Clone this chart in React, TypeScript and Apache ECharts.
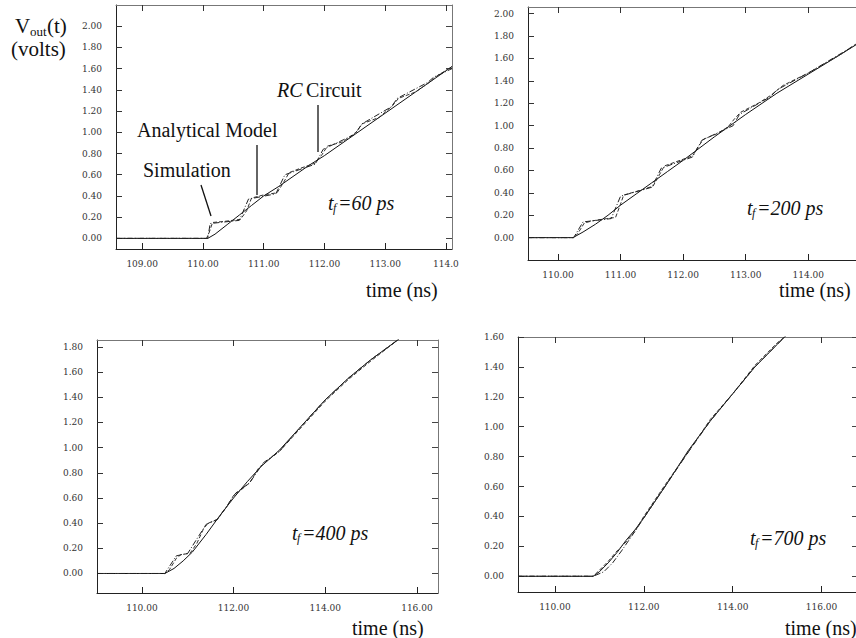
import React, { useEffect, useRef } from "react";
import * as echarts from "echarts";

// ---------- data ----------
// panel 1 : tf = 60 ps
const p1RC = [[108.57,0],[110.08,0],[110.2,0.04],[110.4,0.13],[110.6,0.22],[110.8,0.31],[111.0,0.4],[111.25,0.49],[111.5,0.59],[111.75,0.69],[112.0,0.78],[112.5,0.98],[113.0,1.18],[113.5,1.38],[114.1,1.62]];
const p1Sim = [[108.57,0],[110.06,0],[110.1,0.05],[110.16,0.15],[110.35,0.16],[110.62,0.18],[110.72,0.26],[110.8,0.38],[111.0,0.41],[111.22,0.43],[111.32,0.52],[111.42,0.62],[111.6,0.66],[111.85,0.71],[111.95,0.78],[112.05,0.87],[112.3,0.91],[112.52,1.0],[112.62,1.08],[112.9,1.14],[113.12,1.25],[113.22,1.32],[113.5,1.38],[113.75,1.48],[113.85,1.53],[114.1,1.62]];
const p1Ana = [[108.57,0],[110.08,0],[110.12,0.14],[110.6,0.17],[110.75,0.37],[111.2,0.42],[111.35,0.6],[111.85,0.7],[111.98,0.84],[112.5,0.98],[112.62,1.08],[113.1,1.24],[113.2,1.32],[113.7,1.47],[113.8,1.52],[114.1,1.6]];
// panel 2 : tf = 200 ps
const p2RC = [[109.52,0],[110.24,0],[110.4,0.05],[110.6,0.12],[110.8,0.2],[111.0,0.29],[111.25,0.39],[111.5,0.49],[111.75,0.59],[112.0,0.69],[112.5,0.9],[113.0,1.1],[113.5,1.29],[114.0,1.46],[114.5,1.63],[114.9,1.77]];
const p2Sim = [[109.52,0],[110.26,0],[110.32,0.04],[110.42,0.13],[110.55,0.15],[110.78,0.17],[110.92,0.18],[111.0,0.3],[111.05,0.38],[111.3,0.42],[111.52,0.46],[111.62,0.56],[111.7,0.64],[111.95,0.69],[112.15,0.73],[112.25,0.82],[112.33,0.88],[112.55,0.93],[112.72,0.99],[112.82,1.06],[112.92,1.12],[113.2,1.2],[113.4,1.27],[113.6,1.36],[114.0,1.47],[114.5,1.63],[114.9,1.78]];
const p2Ana = [[109.52,0],[110.25,0],[110.4,0.14],[110.85,0.17],[111.0,0.37],[111.5,0.45],[111.65,0.62],[112.15,0.72],[112.3,0.87],[112.8,1.0],[112.9,1.1],[113.4,1.26],[113.5,1.32],[114.0,1.47],[114.9,1.77]];
// panel 3 : tf = 400 ps
const p3RC = [[109.02,0],[110.5,0],[110.7,0.04],[110.9,0.1],[111.1,0.17],[111.4,0.31],[111.7,0.46],[112.0,0.6],[112.3,0.73],[112.6,0.85],[113.0,0.98],[113.5,1.18],[114.0,1.38],[114.5,1.55],[115.0,1.7],[115.6,1.86]];
const p3Sim = [[109.02,0],[110.5,0],[110.6,0.03],[110.75,0.12],[110.85,0.15],[111.05,0.16],[111.2,0.24],[111.35,0.36],[111.45,0.4],[111.65,0.43],[111.85,0.53],[112.0,0.62],[112.15,0.66],[112.35,0.72],[112.55,0.84],[112.75,0.9],[113.0,0.97],[113.25,1.07],[113.5,1.17],[114.0,1.37],[114.5,1.54],[115.0,1.69],[115.6,1.86]];
const p3Ana = [[109.02,0],[110.5,0],[110.75,0.14],[111.0,0.16],[111.4,0.39],[111.65,0.43],[112.05,0.64],[112.35,0.72],[112.65,0.88],[113.0,0.97],[113.5,1.18],[114.0,1.38],[114.5,1.55],[115.0,1.7],[115.6,1.86]];
// panel 4 : tf = 700 ps
const p4RC = [[109.17,0],[110.86,0],[111.0,0.03],[111.2,0.09],[111.4,0.16],[111.6,0.24],[111.8,0.31],[112.0,0.39],[112.5,0.61],[113.0,0.84],[113.5,1.04],[114.0,1.22],[114.5,1.4],[115.0,1.55],[115.2,1.61]];
const p4Sim = [[109.17,0],[110.86,0],[111.0,0.04],[111.2,0.1],[111.4,0.17],[111.6,0.23],[111.8,0.3],[112.0,0.4],[112.5,0.62],[113.0,0.83],[113.5,1.05],[114.0,1.22],[114.5,1.41],[115.0,1.56],[115.25,1.62]];
const p4Ana = [[109.17,0],[110.86,0],[111.1,0.03],[111.3,0.09],[111.5,0.17],[111.8,0.3],[112.0,0.39],[112.5,0.61],[113.0,0.83],[113.5,1.04],[114.0,1.22],[114.5,1.4],[115.0,1.55],[115.2,1.61]];

// ticks & labels
const p1XTicks = [109, 110, 111, 112, 113, 114];
const p1XLabels = ["109.00", "110.00", "111.00", "112.00", "113.00", "114.0"];
const p2XTicks = [110, 111, 112, 113, 114];
const p2XLabels = ["110.00", "111.00", "112.00", "113.00", "114.00"];
const p34XTicks = [110, 112, 114, 116];
const p34XLabels = ["110.00", "112.00", "114.00", "116.00"];
const yTicks20 = [0, 0.2, 0.4, 0.6, 0.8, 1.0, 1.2, 1.4, 1.6, 1.8, 2.0];
const yTicks18 = [0, 0.2, 0.4, 0.6, 0.8, 1.0, 1.2, 1.4, 1.6, 1.8];
const yTicks16 = [0, 0.2, 0.4, 0.6, 0.8, 1.0, 1.2, 1.4, 1.6];
const panelNotes = ["=60 ps", "=200 ps", "=400 ps", "=700 ps"];

const SERIF = "Liberation Serif";
const TICKFONT = "DejaVu Serif";

export default function App() {
  const ref = useRef<HTMLDivElement>(null);
  useEffect(() => {
    if (!ref.current) return;
    const chart = echarts.init(ref.current, undefined, { renderer: "svg" });

    const panels = [
      { grid: { left: 116, top: 5, width: 336, height: 244 }, x: [108.57, 114.1], y: [-0.1, 2.2], xt: p1XTicks, xl: p1XLabels, yt: yTicks20, data: [p1RC, p1Sim, p1Ana] },
      { grid: { left: 528, top: 7, width: 334, height: 253 }, x: [109.52, 114.86], y: [-0.2, 2.06], xt: p2XTicks, xl: p2XLabels, yt: yTicks20, data: [p2RC, p2Sim, p2Ana] },
      { grid: { left: 97, top: 340, width: 341, height: 253 }, x: [109.02, 116.46], y: [-0.155, 1.855], xt: p34XTicks, xl: p34XLabels, yt: yTicks18, data: [p3RC, p3Sim, p3Ana] },
      { grid: { left: 518, top: 337, width: 340, height: 255 }, x: [109.17, 116.82], y: [-0.105, 1.6], xt: p34XTicks, xl: p34XLabels, yt: yTicks16, data: [p4RC, p4Sim, p4Ana] },
    ];

    const grid: any[] = [];
    const xAxis: any[] = [];
    const yAxis: any[] = [];
    const series: any[] = [];
    panels.forEach((p, i) => {
      grid.push({ ...p.grid, containLabel: false });
      xAxis.push({
        type: "value", gridIndex: i, min: p.x[0], max: p.x[1], position: "bottom",
        axisLine: { show: true, onZero: false, lineStyle: { color: "#222", width: 1 } },
        axisTick: { show: true, inside: true, length: 6, customValues: p.xt, lineStyle: { color: "#222" } },
        axisLabel: {
          show: true, customValues: p.xt, margin: 10, fontSize: 9, fontFamily: TICKFONT, color: "#333",
          formatter: (v: number) => { const k = p.xt.findIndex((t) => Math.abs(t - v) < 1e-6); return k >= 0 ? p.xl[k] : ""; },
        },
        splitLine: { show: false },
      });
      xAxis.push({
        type: "value", gridIndex: i, min: p.x[0], max: p.x[1], position: "top",
        axisLine: { show: true, onZero: false, lineStyle: { color: "#777", width: 1 } },
        axisTick: { show: true, inside: true, length: 6, customValues: p.xt, lineStyle: { color: "#333" } },
        axisLabel: { show: false }, splitLine: { show: false },
      });
      yAxis.push({
        type: "value", gridIndex: i, min: p.y[0], max: p.y[1], position: "left",
        axisLine: { show: true, onZero: false, lineStyle: { color: "#222", width: 1 } },
        axisTick: { show: true, inside: true, length: 6, customValues: p.yt, lineStyle: { color: "#333" } },
        axisLabel: { show: true, customValues: p.yt, margin: 14, fontSize: 9, fontFamily: TICKFONT, color: "#333", formatter: (v: number) => v.toFixed(2) },
        splitLine: { show: false },
      });
      yAxis.push({
        type: "value", gridIndex: i, min: p.y[0], max: p.y[1], position: "right",
        axisLine: { show: true, onZero: false, lineStyle: { color: "#777", width: 1 } },
        axisTick: { show: true, inside: true, length: 6, customValues: p.yt, lineStyle: { color: "#444" } },
        axisLabel: { show: false }, splitLine: { show: false },
      });
      const names = ["RC Circuit", "Simulation", "Analytical Model"];
      const styles = [
        { color: "#111", width: 1, type: "solid" },
        { color: "#333", width: 1, type: [4, 2] },
        { color: "#222", width: 1, type: [6, 2, 1, 2] },
      ];
      p.data.forEach((d, k) => {
        series.push({
          type: "line", name: names[k], xAxisIndex: i * 2, yAxisIndex: i * 2, data: d,
          showSymbol: false, symbol: "none", clip: true, lineStyle: styles[k], silent: true,
        });
      });
    });

    const txt = (x: number, y: number, text: string, extra: any = {}) => ({
      type: "text", x, y, style: { text, fontFamily: SERIF, fontSize: 20, fill: "#111", textVerticalAlign: "middle", ...extra },
    });
    const tfNote = (x: number, y: number, note: string) => ({
      type: "group", children: [
        txt(x, y, "t", { fontStyle: "italic" }),
        txt(x + 5, y + 5, "f", { fontStyle: "italic", fontSize: 12 }),
        txt(x + 10, y, note, { fontStyle: "italic" }),
      ],
    });
    const graphic: any[] = [
      txt(15, 26, "V", { fontSize: 21 }),
      txt(30, 31, "out", { fontSize: 13 }),
      txt(47, 26, "(t)", { fontSize: 21 }),
      txt(11, 49, "(volts)", { fontSize: 21 }),
      txt(137, 130, "Analytical Model"),
      txt(143, 170, "Simulation"),
      txt(277, 90, "RC", { fontStyle: "italic" }),
      txt(306, 90, "Circuit"),
      { type: "line", shape: { x1: 201, y1: 185, x2: 211, y2: 216 }, style: { stroke: "#111", lineWidth: 1.3 } },
      { type: "line", shape: { x1: 257, y1: 145, x2: 257, y2: 195 }, style: { stroke: "#111", lineWidth: 1.3 } },
      { type: "line", shape: { x1: 318, y1: 105, x2: 318, y2: 152 }, style: { stroke: "#111", lineWidth: 1.3 } },
      tfNote(328, 203, panelNotes[0]),
      tfNote(747, 208, panelNotes[1]),
      tfNote(292, 533, panelNotes[2]),
      tfNote(750, 538, panelNotes[3]),
      txt(366, 290, "time (ns)"),
      txt(779, 290, "time (ns)"),
      txt(352, 628, "time (ns)"),
      txt(785, 628, "time (ns)"),
    ];

    chart.setOption({
      animation: false,
      backgroundColor: "#fff",
      textStyle: { fontFamily: SERIF },
      grid, xAxis, yAxis, series, graphic,
    });
    return () => chart.dispose();
  }, []);

  return (
    <div style={{ position: "fixed", left: 0, top: 0, width: 856, height: 638, overflow: "hidden", background: "#fff" }}>
      <div ref={ref} style={{ width: 872, height: 638 }} />
    </div>
  );
}
